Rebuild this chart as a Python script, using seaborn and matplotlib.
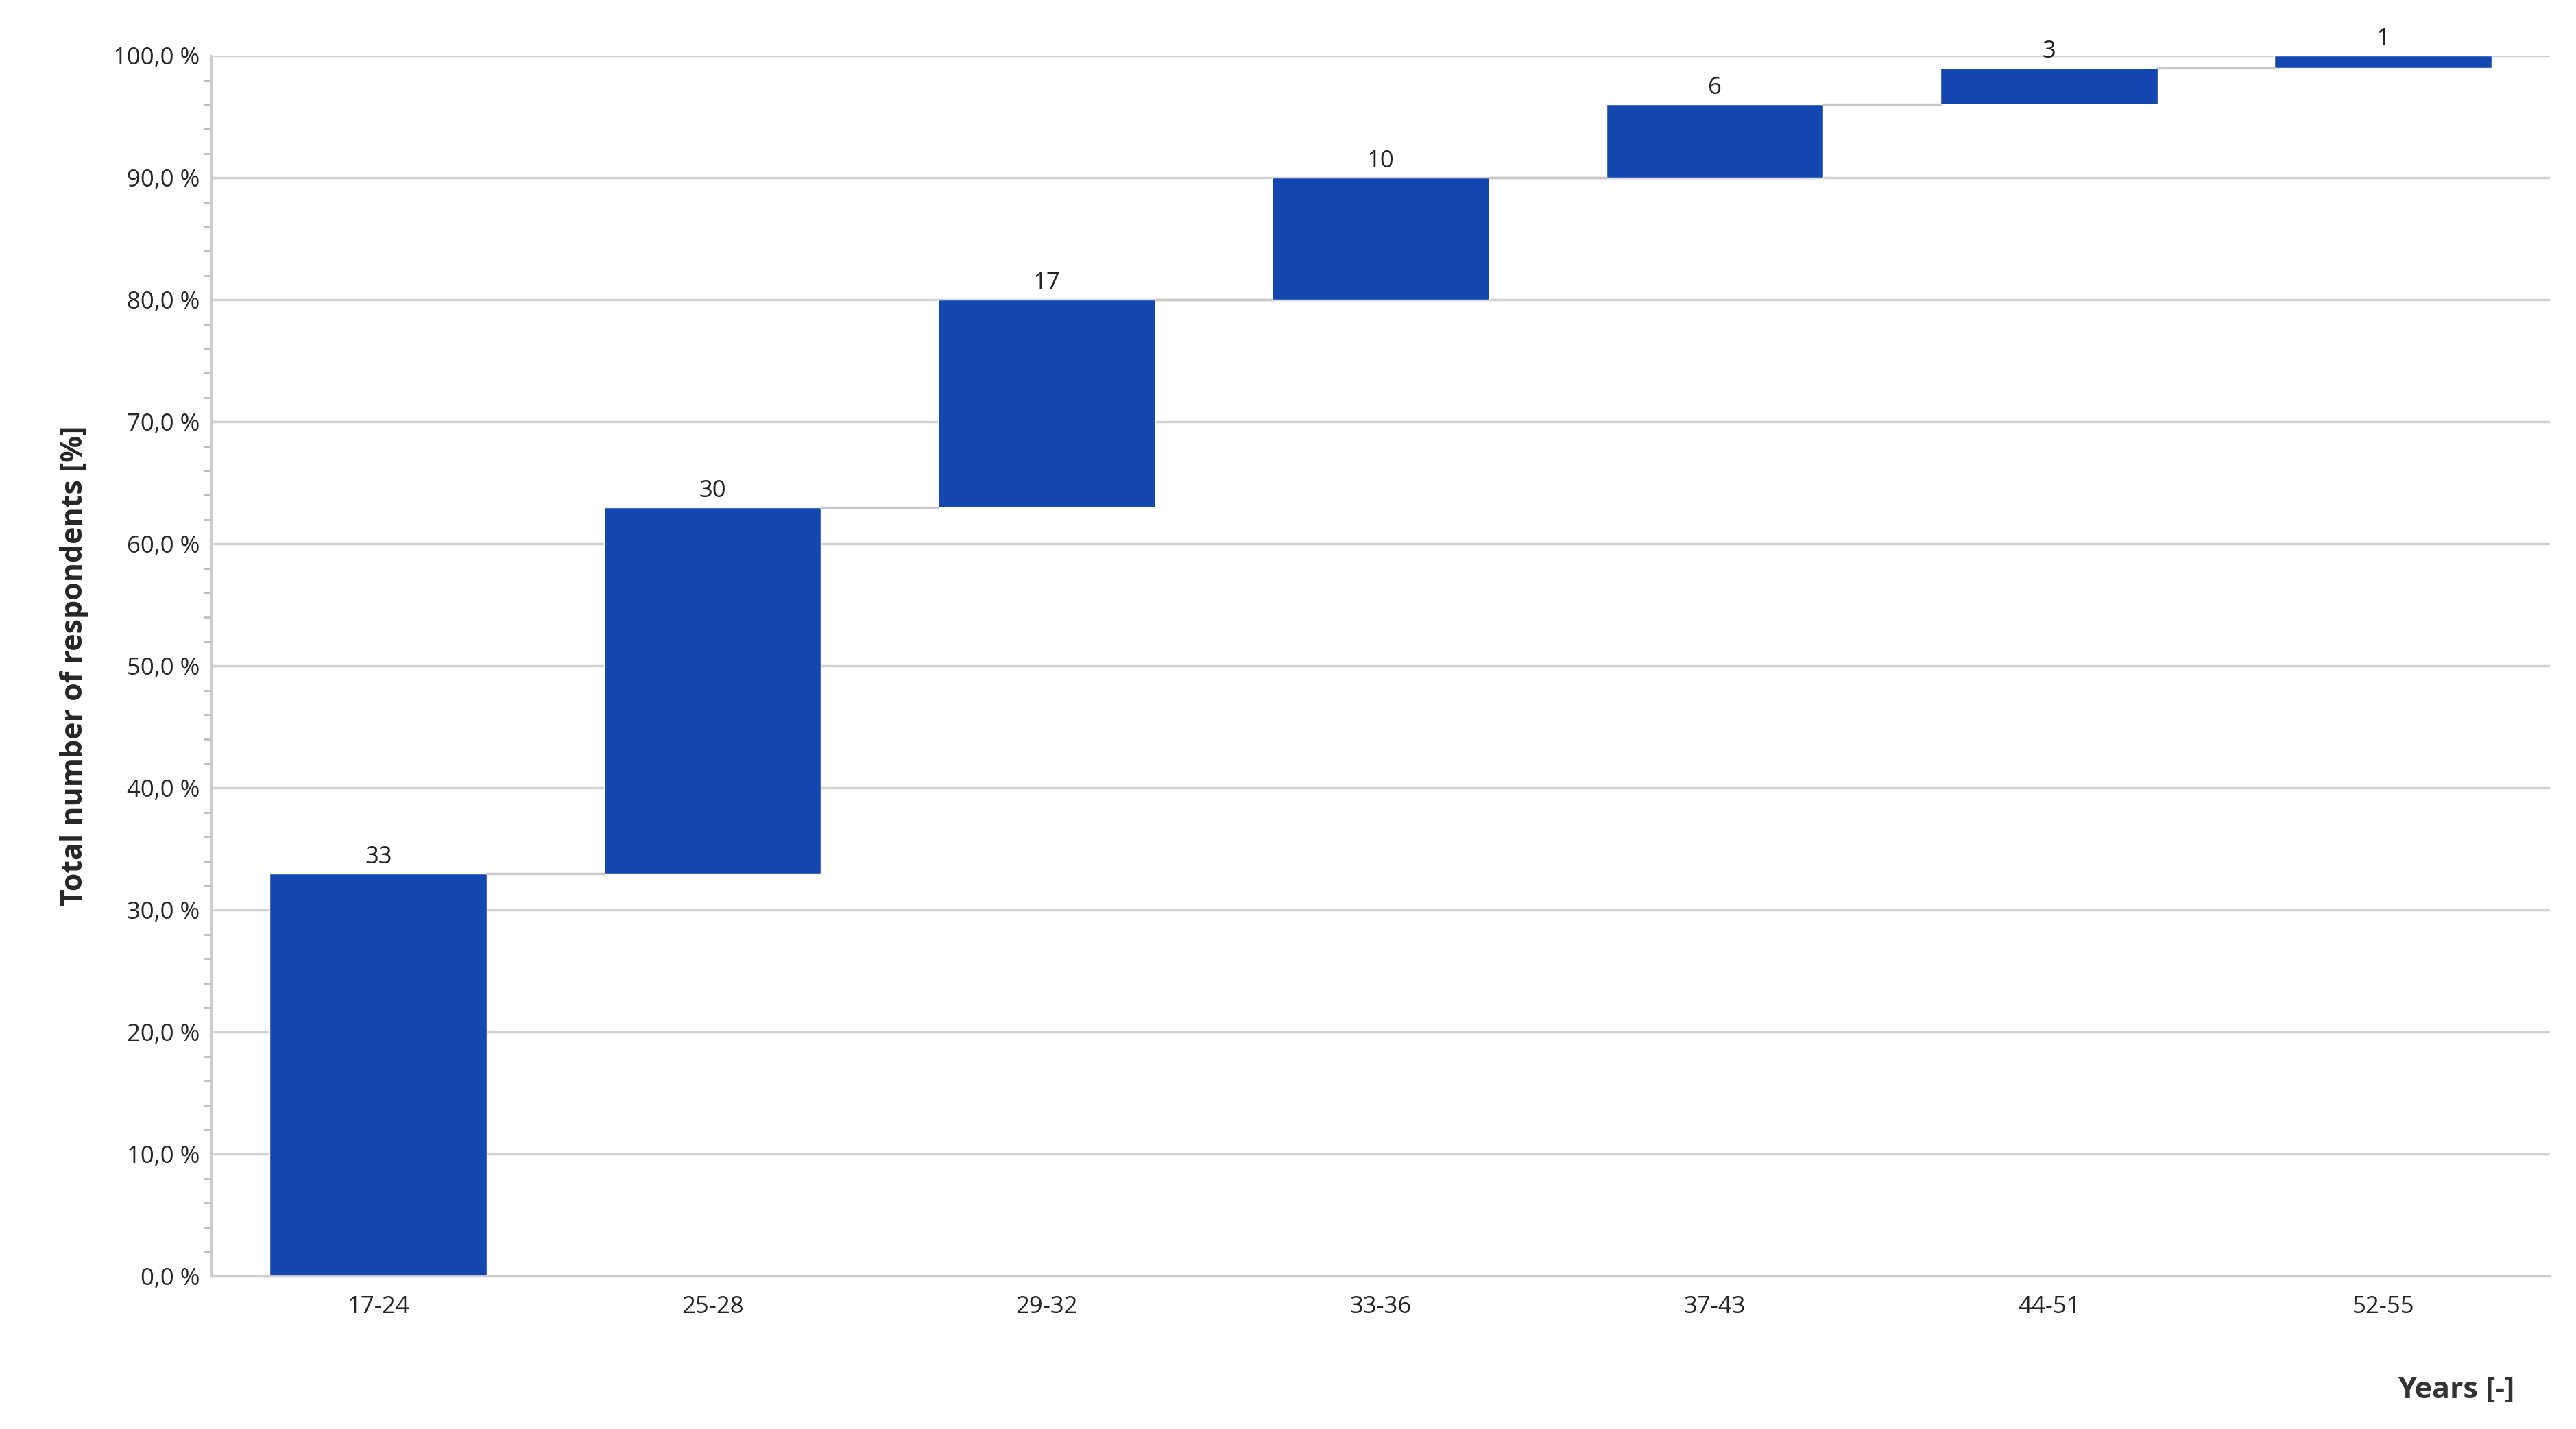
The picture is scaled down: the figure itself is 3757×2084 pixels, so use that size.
import numpy as np
import pandas as pd
import matplotlib.pyplot as plt
import seaborn as sns
from matplotlib.ticker import FuncFormatter, MultipleLocator

sns.set_theme(style="white")
plt.rcParams['font.family'] = ['Open Sans', 'DejaVu Sans']

# data
age_groups = ["17-24", "25-28", "29-32", "33-36", "37-43", "44-51", "52-55"]
shares = [33, 30, 17, 10, 6, 3, 1]

tops = np.cumsum(shares)
bottoms = tops - np.array(shares)
df = pd.DataFrame({"group": age_groups, "share": shares, "bottom": bottoms})

fig = plt.figure(figsize=(37.57, 20.84), dpi=100)
ax = fig.add_axes([0.082, 0.107, 0.908, 0.854])

ax.yaxis.grid(True, color="#d0d0d0", linewidth=2.5)
ax.set_axisbelow(True)

sns.barplot(data=df, x="group", y="share", bottom=df["bottom"].values,
            color="#1448B0", saturation=1, width=0.65, ax=ax)

# connectors between bars
for i in range(len(shares) - 1):
    ax.plot([i + 0.325, i + 1 - 0.325], [tops[i], tops[i]], color="#c8c8c8", lw=2.5, zorder=1)

for i, (t, s) in enumerate(zip(tops, shares)):
    ax.text(i, t + 0.4, str(s), ha="center", va="bottom", fontsize=25, color="#222222")

ax.set_ylim(0, 100)
ax.set_xlim(-0.5, len(shares) - 0.5)
ax.yaxis.set_major_locator(MultipleLocator(10))
ax.yaxis.set_minor_locator(MultipleLocator(2))
ax.yaxis.set_major_formatter(FuncFormatter(lambda v, p: f"{v:.1f} %".replace(".", ",")))
ax.tick_params(axis="y", which="both", left=True, length=0, labelsize=25, pad=12)
ax.tick_params(axis="y", which="minor", length=8, color="#bbbbbb", width=2)
ax.tick_params(axis="x", labelsize=25, pad=20, length=0)

for sp in ["top", "right"]:
    ax.spines[sp].set_visible(False)
ax.spines["left"].set_color("#cccccc")
ax.spines["left"].set_linewidth(2.5)
ax.spines["bottom"].set_color("#cccccc")
ax.spines["bottom"].set_linewidth(2.5)

ax.set_xlabel("")
ax.set_ylabel("Total number of respondents [%]", fontsize=31, fontweight="bold", labelpad=25)
fig.text(0.976, 0.027, "Years [-]", ha="right", va="center", fontsize=31, fontweight="bold", color="#333333")

fig.savefig("out.png", dpi=100, facecolor="white")
